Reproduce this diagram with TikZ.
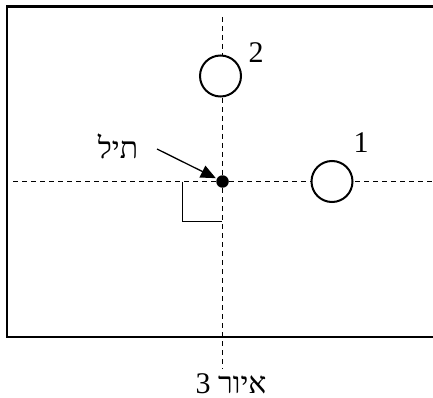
\documentclass[tikz,border=0pt]{standalone}
\usepackage{fontspec}
\setmainfont{Liberation Serif}
\newfontfamily\hebfont[Script=Hebrew]{Liberation Serif}
\TeXXeTstate=1
\usetikzlibrary{arrows.meta}
\begin{document}
\begin{tikzpicture}[x=1pt,y=-1pt,
  frame/.style={line width=2.4pt},
  axis/.style={line width=1pt, dash pattern=on 5pt off 4pt},
  ring/.style={circle, draw, line width=2pt, minimum size=41pt, inner sep=0pt},
  wiredot/.style={circle, fill=black, minimum size=12.5pt, inner sep=0pt},
  lbl/.style={font=\fontsize{30}{34}\selectfont, inner sep=0pt},
  pointer/.style={line width=1.3pt, -{Triangle[length=15pt,width=13pt]}},
  thin/.style={line width=0.9pt}]
\useasboundingbox (0,0) rectangle (433,398);
% frame (right side beyond picture)
\draw[frame] (445,6.5) -- (7,6.5) -- (7,337) -- (445,337);
% axes
\coordinate (vtop) at (222,17);
\coordinate (vbot) at (222,369);
\coordinate (hleft) at (13,181.5);
\coordinate (hright) at (432,181.5);
\draw[axis] (vtop) -- (vbot);
\draw[axis] (hleft) -- (hright);
% rings
\node[ring, fill=white] (c2) at (220.5,76) {};
\node[ring, fill=white] (c1) at (332,181.5) {};
\node[lbl] (l2) at (256,53) {2};
\node[lbl] (l1) at (361,143) {1};
% wire
\node[wiredot] (dot) at (222.5,181.5) {};
\node[lbl] (wire) at (118,146) {\hebfont\beginR תיל\endR};
\coordinate (arrstart) at (157,149);
\draw[pointer, shorten >=1pt] (arrstart) -- (dot);
% right-angle mark
\coordinate (ra1) at (182,181.5);
\coordinate (ra2) at (182,221);
\coordinate (ra3) at (222,221);
\draw[thin] (ra1) -- (ra2) -- (ra3);
% caption
\node[lbl, anchor=base] (cap) at (231,393) {\hebfont\beginR איור 3\endR};
\end{tikzpicture}
\end{document}
